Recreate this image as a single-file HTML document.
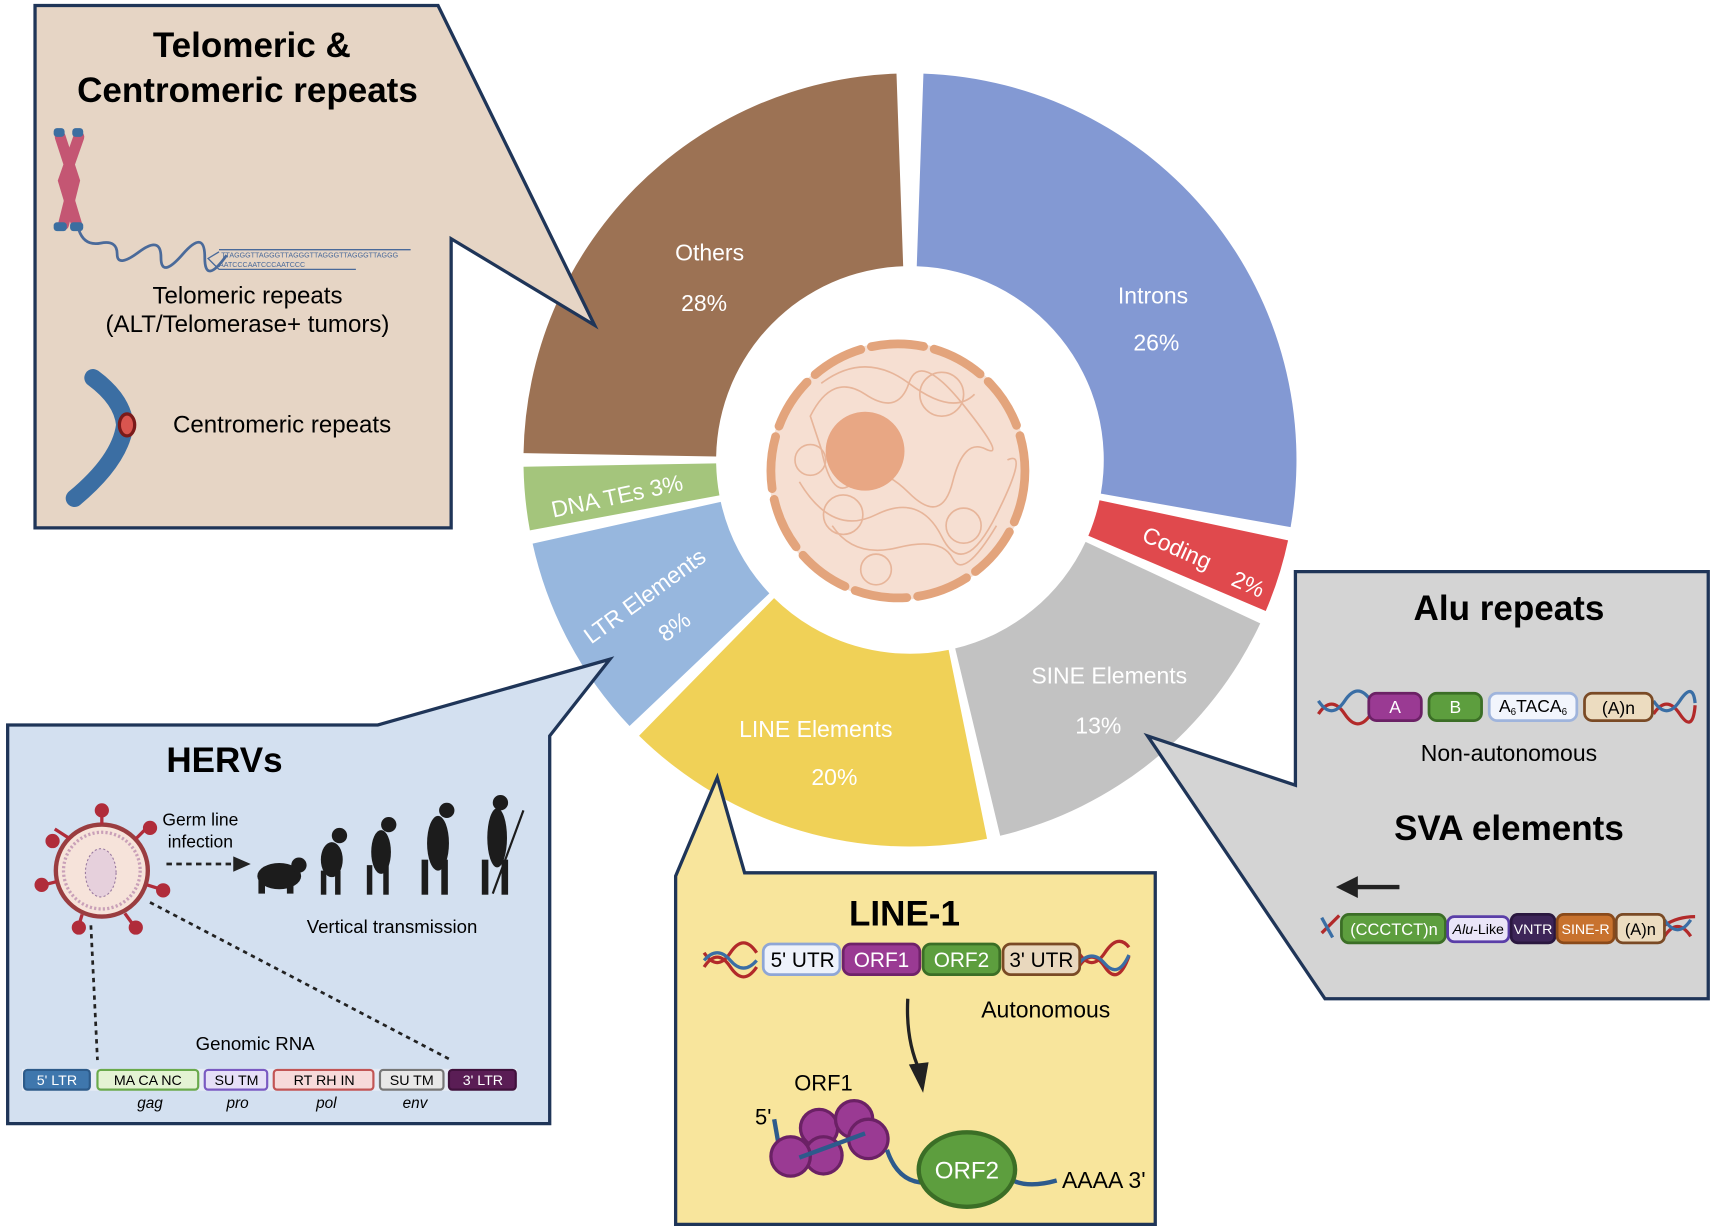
<!DOCTYPE html>
<html><head><meta charset="utf-8"><style>
html,body{margin:0;padding:0;background:#fff;}
svg{display:block;}
text{font-family:"Liberation Sans",sans-serif;}
</style></head><body>
<svg id="s" width="1717" height="1232" viewBox="0 0 1568 1125" preserveAspectRatio="none" xmlns="http://www.w3.org/2000/svg">
<g id="donut"></g>
<!-- nucleus -->
<circle cx="820" cy="430" r="118" fill="#f6dfd2"/>
<circle cx="820" cy="430" r="116" fill="none" stroke="#e3a47c" stroke-width="8" stroke-dasharray="48 10" stroke-linecap="round"/>
<g fill="none" stroke="#e7b59a" stroke-width="1.5">
<path d="M740 380 q20 -40 50 -20 t40 -10 t50 20 t20 40 t-30 30 t-40 10 t-50 -10 t-30 -30 z"/>
<path d="M730 440 q30 50 70 30 t60 20 t50 -20 t10 -50"/>
<path d="M760 480 q20 30 60 20 t50 10 t40 -30"/>
<path d="M750 350 q40 -30 80 0 t60 10"/>
<circle cx="770" cy="470" r="18"/><circle cx="860" cy="360" r="20"/><circle cx="880" cy="480" r="16"/><circle cx="800" cy="520" r="14"/><circle cx="740" cy="420" r="14"/>
</g>
<circle cx="790" cy="412" r="36" fill="#e8a784"/>

<!-- donut labels -->
<g fill="#fff" font-size="21">
<text x="648" y="238" text-anchor="middle">Others</text>
<text x="643" y="284" text-anchor="middle">28%</text>
<text x="1053" y="277" text-anchor="middle">Introns</text>
<text x="1056" y="320" text-anchor="middle">26%</text>
<text transform="translate(1072,507) rotate(24)" text-anchor="middle">Coding</text>
<text transform="translate(1137,540) rotate(24)" text-anchor="middle">2%</text>
<text x="1013" y="624" text-anchor="middle">SINE Elements</text>
<text x="1003" y="670" text-anchor="middle">13%</text>
<text x="745" y="673" text-anchor="middle">LINE Elements</text>
<text x="762" y="717" text-anchor="middle">20%</text>
<text transform="translate(593,550) rotate(-36)" text-anchor="middle">LTR Elements</text>
<text transform="translate(620,578) rotate(-36)" text-anchor="middle">8%</text>
<text transform="translate(565,460) rotate(-12)" text-anchor="middle">DNA TEs  3%</text>
</g>

<!-- Telomeric box -->
<polygon points="32,5 400,5 543,297 412,218 412,482 32,482" fill="#e6d5c5" stroke="#1f3558" stroke-width="3" stroke-linejoin="miter"/>
<text x="230" y="52" font-size="32" font-weight="bold" text-anchor="middle">Telomeric &amp;</text>
<text x="226" y="93" font-size="32" font-weight="bold" text-anchor="middle">Centromeric repeats</text>
<g>
<path d="M55 125 L68 165 L58 205" stroke="#c45673" stroke-width="10" fill="none" stroke-linecap="round"/>
<path d="M72 125 L58 165 L70 205" stroke="#c45673" stroke-width="10" fill="none" stroke-linecap="round"/>
<rect x="49" y="117" width="10" height="8" rx="3" fill="#3c6ea0"/><rect x="66" y="117" width="10" height="8" rx="3" fill="#3c6ea0"/>
<rect x="49" y="203" width="12" height="8" rx="3" fill="#3c6ea0"/><rect x="64" y="203" width="12" height="8" rx="3" fill="#3c6ea0"/>
<path d="M72 210 q5 15 20 12 t15 10 t20 -2 t20 5 t20 -3 t20 3 t20 -2" stroke="#4a6a9a" stroke-width="2.5" fill="none"/>
<path d="M200 230 L190 236 L200 246 M200 228 H375 M200 246 H325" stroke="#4a6a9a" stroke-width="1.2" fill="none"/>
<text x="202" y="235" font-size="6.5" fill="#4a6a9a">TTAGGGTTAGGGTTAGGGTTAGGGTTAGGGTTAGGG</text>
<text x="200" y="244" font-size="6.5" fill="#4a6a9a">AATCCCAATCCCAATCCC</text>
</g>
<text x="226" y="277" font-size="22" text-anchor="middle">Telomeric repeats</text>
<text x="226" y="303" font-size="22" text-anchor="middle">(ALT/Telomerase+ tumors)</text>
<path d="M85 345 Q112 365 114 388 Q110 420 68 455" stroke="#3b6ea3" stroke-width="16" fill="none" stroke-linecap="round"/>
<ellipse cx="116" cy="388" rx="7" ry="10" fill="#d9554f" stroke="#7a1a1a" stroke-width="3"/>
<text x="158" y="395" font-size="22">Centromeric repeats</text>

<!-- HERVs box -->
<polygon points="7,662 345,662 557,602 502,672 502,1026 7,1026" fill="#d3e0f0" stroke="#1f3558" stroke-width="3"/>
<text x="205" y="705" font-size="32" font-weight="bold" text-anchor="middle">HERVs</text>
<g>
<circle cx="93" cy="795" r="42" fill="#f6e3da" stroke="#9a3d40" stroke-width="4"/>
<circle cx="93" cy="795" r="35" fill="none" stroke="#c9a0b8" stroke-width="3" stroke-dasharray="2 2"/>
<ellipse cx="92" cy="797" rx="14" ry="22" fill="#e6d0dc" stroke="#9a7aa0" stroke-width="1" stroke-dasharray="2 2"/>
<g stroke="#b02c3a" stroke-width="3" fill="#b02c3a">
<line x1="93" y1="753" x2="93" y2="740"/><circle cx="93" cy="740" r="5"/>
<line x1="64" y1="766" x2="50" y2="757"/><circle cx="48" cy="768" r="5"/>
<line x1="124" y1="766" x2="135" y2="755"/><circle cx="137" cy="756" r="5"/>
<line x1="52" y1="805" x2="40" y2="808"/><circle cx="38" cy="808" r="5"/>
<line x1="134" y1="808" x2="147" y2="812"/><circle cx="149" cy="813" r="5"/>
<line x1="75" y1="835" x2="72" y2="845"/><circle cx="72" cy="847" r="5"/>
<line x1="114" y1="834" x2="122" y2="845"/><circle cx="124" cy="847" r="5"/>
</g>
</g>
<text x="183" y="754" font-size="16" text-anchor="middle">Germ line</text>
<text x="183" y="774" font-size="16" text-anchor="middle">infection</text>
<line x1="152" y1="789" x2="215" y2="789" stroke="#222" stroke-width="2.5" stroke-dasharray="5 4"/>
<polygon points="213,782 229,789 213,796" fill="#222"/>
<g fill="#1c1c1c">
<ellipse cx="255" cy="800" rx="20" ry="12"/><circle cx="273" cy="790" r="7"/><rect x="236" y="800" width="6" height="16"/><rect x="262" y="802" width="6" height="14"/>
<circle cx="310" cy="763" r="7"/><ellipse cx="303" cy="785" rx="10" ry="16"/><rect x="293" y="795" width="5" height="22"/><rect x="306" y="795" width="5" height="22"/>
<circle cx="355" cy="753" r="7"/><ellipse cx="348" cy="778" rx="9" ry="20"/><rect x="335" y="790" width="5" height="27"/><rect x="350" y="790" width="5" height="27"/>
<circle cx="408" cy="740" r="7"/><ellipse cx="400" cy="770" rx="10" ry="25"/><rect x="385" y="785" width="6" height="32"/><rect x="403" y="785" width="6" height="32"/>
<circle cx="457" cy="733" r="7"/><ellipse cx="454" cy="765" rx="9" ry="27"/><rect x="440" y="785" width="6" height="32"/><rect x="458" y="785" width="6" height="32"/>
</g>
<line x1="478" y1="740" x2="450" y2="816" stroke="#1c1c1c" stroke-width="2"/>
<text x="358" y="852" font-size="17" text-anchor="middle">Vertical transmission</text>
<line x1="83" y1="845" x2="89" y2="968" stroke="#222" stroke-width="2.5" stroke-dasharray="4 4"/>
<line x1="137" y1="824" x2="412" y2="968" stroke="#222" stroke-width="2.5" stroke-dasharray="4 4"/>
<text x="233" y="959" font-size="17" text-anchor="middle">Genomic RNA</text>
<rect x="20" y="976" width="452" height="20" fill="#e6ebf5"/>
<g font-size="13" text-anchor="middle" stroke-width="2">
<rect x="22" y="977" width="60" height="18" rx="3" fill="#3f77ad" stroke="#2d5b8a"/><text x="52" y="991" fill="#fff" stroke="none">5' LTR</text>
<rect x="89" y="977" width="92" height="18" rx="3" fill="#e4f3d3" stroke="#6aaa4c"/><text x="135" y="991" stroke="none">MA  CA  NC</text>
<rect x="187" y="977" width="57" height="18" rx="3" fill="#e6e0f7" stroke="#7a5ac2"/><text x="216" y="991" stroke="none">SU  TM</text>
<rect x="250" y="977" width="91" height="18" rx="3" fill="#f7dada" stroke="#c25555"/><text x="296" y="991" stroke="none">RT  RH  IN</text>
<rect x="347" y="977" width="58" height="18" rx="3" fill="#e8e8e8" stroke="#777"/><text x="376" y="991" stroke="none">SU  TM</text>
<rect x="410" y="977" width="61" height="18" rx="3" fill="#5a1d55" stroke="#40113c"/><text x="441" y="991" fill="#fff" stroke="none">3' LTR</text>
</g>
<g font-size="14" font-style="italic" text-anchor="middle">
<text x="137" y="1012">gag</text><text x="217" y="1012">pro</text><text x="298" y="1012">pol</text><text x="379" y="1012">env</text>
</g>

<!-- LINE-1 box -->
<polygon points="617,1118 617,800 655,710 680,797 1055,797 1055,1118" fill="#f8e59c" stroke="#1f3558" stroke-width="3"/>
<text x="826" y="845" font-size="32" font-weight="bold" text-anchor="middle">LINE-1</text>
<path d="M643 883 q12 -18 24 0 t24 0 M643 870 q12 18 24 0 t24 0" stroke="#b22a2a" stroke-width="3" fill="none"/>
<path d="M643 877 q12 -14 24 0 t24 0" stroke="#3a6ea5" stroke-width="3" fill="none"/>
<path d="M985 883 q12 -18 24 0 t22 -10 M985 870 q12 18 24 0 t22 -5" stroke="#b22a2a" stroke-width="3" fill="none"/>
<path d="M985 880 q12 -14 24 0 t22 -8" stroke="#3a6ea5" stroke-width="3" fill="none"/>
<g font-size="19" text-anchor="middle" stroke-width="2.5">
<rect x="697" y="862" width="70" height="28" rx="7" fill="#eef2fb" stroke="#8fa6d6"/><text x="733" y="883" stroke="none">5' UTR</text>
<rect x="770" y="862" width="70" height="28" rx="7" fill="#9a3a93" stroke="#6f2269"/><text x="805" y="883" fill="#fff" stroke="none">ORF1</text>
<rect x="843" y="862" width="70" height="28" rx="7" fill="#5d9e3e" stroke="#3b6e26"/><text x="878" y="883" fill="#fff" stroke="none">ORF2</text>
<rect x="916" y="862" width="70" height="28" rx="7" fill="#e9d8be" stroke="#7a4a25"/><text x="951" y="883" stroke="none">3' UTR</text>
</g>
<text x="955" y="929" font-size="21" text-anchor="middle">Autonomous</text>
<path d="M829 912 Q827 950 840 978" stroke="#222" stroke-width="3" fill="none"/>
<polygon points="830,972 848,970 843,998" fill="#222"/>
<text x="752" y="996" font-size="20" text-anchor="middle">ORF1</text>
<text x="697" y="1027" font-size="20" text-anchor="middle">5'</text>
<path d="M707 1022 L711 1045" stroke="#2d5a8c" stroke-width="4" fill="none"/>
<g fill="#9a3a93" stroke="#6b2165" stroke-width="3">
<circle cx="748" cy="1030" r="17"/><circle cx="780" cy="1022" r="17"/><circle cx="752" cy="1055" r="17"/><circle cx="722" cy="1056" r="18"/><circle cx="793" cy="1040" r="18"/>
</g>
<path d="M730 1057 L790 1035 M810 1050 Q820 1080 845 1080 M925 1078 Q940 1085 965 1078" stroke="#2d5a8c" stroke-width="4" fill="none"/>
<ellipse cx="883" cy="1068" rx="44" ry="34" fill="#5d9e3e" stroke="#3b6e26" stroke-width="4"/>
<text x="883" y="1076" font-size="22" fill="#fff" text-anchor="middle">ORF2</text>
<text x="1008" y="1085" font-size="21" text-anchor="middle">AAAA 3'</text>

<!-- Alu box -->
<polygon points="1183,522 1560,522 1560,912 1210,912 1048,672 1183,717" fill="#d4d4d4" stroke="#1f3558" stroke-width="3"/>
<text x="1378" y="566" font-size="32" font-weight="bold" text-anchor="middle">Alu repeats</text>
<path d="M1204 652 q12 -18 24 0 t24 0 M1510 652 q12 -18 24 0 t14 -8" stroke="#b22a2a" stroke-width="3" fill="none"/>
<path d="M1204 640 q12 18 24 0 t24 0 M1510 640 q12 18 24 0 t14 2" stroke="#3a6ea5" stroke-width="3" fill="none"/>
<g font-size="16" text-anchor="middle" stroke-width="2.5">
<rect x="1250" y="633" width="48" height="25" rx="7" fill="#9a3a93" stroke="#6b2165"/><text x="1274" y="651" fill="#fff" stroke="none">A</text>
<rect x="1305" y="633" width="48" height="25" rx="7" fill="#5d9e3e" stroke="#3b6e26"/><text x="1329" y="651" fill="#fff" stroke="none">B</text>
<rect x="1360" y="633" width="80" height="25" rx="7" fill="#f2f5fc" stroke="#9fb4dc"/><text x="1400" y="650" stroke="none">A<tspan font-size="9" dy="3">6</tspan><tspan dy="-3">TACA</tspan><tspan font-size="9" dy="3">6</tspan></text>
<rect x="1447" y="633" width="62" height="25" rx="7" fill="#ecdcc0" stroke="#7a4a25"/><text x="1478" y="652" stroke="none">(A)n</text>
</g>
<text x="1378" y="695" font-size="21" text-anchor="middle">Non-autonomous</text>
<text x="1378" y="767" font-size="32" font-weight="bold" text-anchor="middle">SVA elements</text>
<line x1="1278" y1="810" x2="1235" y2="810" stroke="#222" stroke-width="4"/>
<polygon points="1220,810 1240,800 1240,820" fill="#222"/>
<path d="M1207 852 l16 -16 M1520 855 q12 -18 24 0 M1520 845 q12 -8 28 -8" stroke="#b22a2a" stroke-width="3" fill="none"/>
<path d="M1207 838 l10 18 M1520 840 q12 18 24 0" stroke="#3a6ea5" stroke-width="3" fill="none"/>
<g font-size="15" text-anchor="middle" stroke-width="2.5">
<rect x="1225" y="835" width="95" height="26" rx="7" fill="#5d9e3e" stroke="#3b6e26"/><text x="1273" y="854" fill="#fff" stroke="none">(CCCTCT)n</text>
<rect x="1322" y="837" width="56" height="23" rx="6" fill="#eae5f8" stroke="#5a3ea8"/><text x="1350" y="853" font-size="13" stroke="none"><tspan font-style="italic">Alu</tspan>-Like</text>
<rect x="1380" y="835" width="40" height="26" rx="6" fill="#3d2558" stroke="#2a173f"/><text x="1400" y="853" font-size="13" fill="#fff" stroke="none">VNTR</text>
<rect x="1422" y="835" width="52" height="26" rx="6" fill="#c8722e" stroke="#8a4a1a"/><text x="1448" y="853" font-size="13" fill="#fff" stroke="none">SINE-R</text>
<rect x="1476" y="835" width="44" height="26" rx="6" fill="#ecdcc0" stroke="#7a4a25"/><text x="1498" y="854" stroke="none">(A)n</text>
</g>
</svg>
<script>
(function(){
var cx=831,cy=420,R=353,r=177;
function pt(a,rad){a=a*Math.PI/180;return [(cx+rad*Math.sin(a)).toFixed(1),(cy-rad*Math.cos(a)).toFixed(1)];}
var segs=[[271,358,"#9c7254"],[2,100,"#8399d3"],[102,113,"#e0494d"],[115,166.5,"#c2c2c2"],[168.5,224.5,"#f0d157"],[226.5,257.5,"#97b7de"],[259.5,269,"#a4c57c"]];
var g=document.getElementById("donut"),h="";
segs.forEach(function(s){
var a=s[0],b=s[1],la=(b-a)>180?1:0;
var p1=pt(a,R),p2=pt(b,R),p3=pt(b,r),p4=pt(a,r);
h+='<path fill="'+s[2]+'" d="M'+p1+' A'+R+' '+R+' 0 '+la+' 1 '+p2+' L'+p3+' A'+r+' '+r+' 0 '+la+' 0 '+p4+' Z"/>';
});
g.innerHTML=h;
})();
</script>
</body></html>
